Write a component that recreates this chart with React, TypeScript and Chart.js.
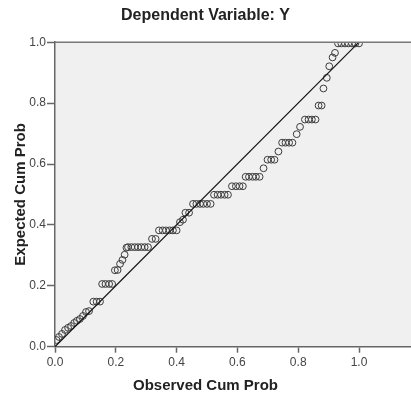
import React, { useEffect, useRef } from 'react';
import { Chart, registerables } from 'chart.js';

Chart.register(...registerables);

const chartTitle = 'Dependent Variable: Y';
const xAxisTitle = 'Observed Cum Prob';
const yAxisTitle = 'Expected Cum Prob';

const xTickValues = [0, 0.2, 0.4, 0.6, 0.8, 1.0];
const xTickLabels = ['0.0', '0.2', '0.4', '0.6', '0.8', '1.0'];
const yTickValues = [0, 0.2, 0.4, 0.6, 0.8, 1.0];
const yTickLabels = ['0.0', '0.2', '0.4', '0.6', '0.8', '1.0'];

const xMin = 0;
const xMax = 1.171;
const yMin = 0;
const yMax = 1;

const observedCumProb = [
  0.005, 0.013, 0.023, 0.033, 0.043, 0.053, 0.063, 0.072, 0.082, 0.092, 0.102, 0.112,
  0.126, 0.137, 0.148,
  0.155, 0.166, 0.178, 0.188,
  0.197, 0.206, 0.214, 0.222, 0.229, 0.235,
  0.240, 0.251, 0.262, 0.273, 0.284, 0.295, 0.306,
  0.319, 0.331,
  0.342, 0.354, 0.365, 0.377, 0.388, 0.400,
  0.411, 0.421,
  0.429, 0.441,
  0.454, 0.465, 0.477, 0.488, 0.500, 0.512,
  0.523, 0.535, 0.546, 0.558, 0.569,
  0.582, 0.595, 0.607, 0.618,
  0.627, 0.638, 0.650, 0.661, 0.673,
  0.686,
  0.699, 0.711, 0.722,
  0.735,
  0.747, 0.758, 0.770, 0.781,
  0.795,
  0.806,
  0.822, 0.834, 0.845, 0.857,
  0.867, 0.877,
  0.883, 0.894, 0.902, 0.913, 0.921,
  0.931, 0.942, 0.954, 0.965, 0.977, 0.988, 1.000,
];

const expectedCumProb = [
  0.022, 0.032, 0.042, 0.055, 0.062, 0.068, 0.078, 0.085, 0.091, 0.101, 0.114, 0.117,
  0.148, 0.148, 0.148,
  0.206, 0.206, 0.206, 0.206,
  0.251, 0.252, 0.272, 0.285, 0.302, 0.325,
  0.327, 0.327, 0.327, 0.327, 0.327, 0.327, 0.327,
  0.354, 0.354,
  0.382, 0.382, 0.382, 0.382, 0.382, 0.382,
  0.409, 0.417,
  0.440, 0.440,
  0.469, 0.469, 0.469, 0.469, 0.469, 0.469,
  0.499, 0.499, 0.499, 0.499, 0.499,
  0.527, 0.527, 0.527, 0.527,
  0.558, 0.558, 0.558, 0.558, 0.558,
  0.586,
  0.614, 0.614, 0.614,
  0.641,
  0.670, 0.670, 0.670, 0.670,
  0.698,
  0.722,
  0.746, 0.746, 0.746, 0.746,
  0.792, 0.792,
  0.848, 0.883, 0.921, 0.950, 0.965,
  0.996, 0.996, 0.996, 0.996, 0.996, 0.996, 0.996,
];

const referenceLineX = [0, 1];
const referenceLineY = [0, 1];

const FONT = "'Liberation Sans', Arial, Helvetica, sans-serif";

const plotBackground = {
  id: 'plotBackground',
  beforeDraw(chart: any) {
    const { ctx, chartArea: a } = chart;
    ctx.save();
    ctx.fillStyle = '#f0f0f0';
    ctx.fillRect(a.left, a.top, a.right - a.left, a.bottom - a.top);
    ctx.restore();
  },
  afterDraw(chart: any) {
    const { ctx, chartArea: a } = chart;
    ctx.save();
    ctx.strokeStyle = '#777';
    ctx.lineWidth = 1.5;
    ctx.beginPath();
    ctx.moveTo(a.left, a.top);
    ctx.lineTo(a.right, a.top);
    ctx.stroke();
    ctx.restore();
  },
};

function labelFor(values: number[], labels: string[], v: number) {
  const i = values.findIndex((t) => Math.abs(t - v) < 1e-9);
  return i >= 0 ? labels[i] : '';
}

export default function App() {
  const canvasRef = useRef<HTMLCanvasElement | null>(null);

  useEffect(() => {
    document.body.style.margin = '0';
    const canvas = canvasRef.current;
    if (!canvas) return;

    const points = observedCumProb.map((x, i) => ({ x, y: expectedCumProb[i] }));
    const refLine = referenceLineX.map((x, i) => ({ x, y: referenceLineY[i] }));

    const chart = new Chart(canvas, {
      type: 'scatter',
      data: {
        datasets: [
          {
            type: 'line',
            data: refLine,
            borderColor: '#111',
            borderWidth: 1.2,
            pointRadius: 0,
            fill: false,
          } as any,
          {
            type: 'scatter',
            data: points,
            pointRadius: 3.4,
            pointHoverRadius: 3.4,
            borderWidth: 1,
            borderColor: '#3c3c3c',
            backgroundColor: 'rgba(0,0,0,0)',
          } as any,
        ],
      },
      options: {
        responsive: false,
        animation: false,
        layout: { padding: 0, autoPadding: false },
        plugins: {
          legend: { display: false },
          tooltip: { enabled: false },
          title: {
            display: true,
            text: chartTitle,
            color: '#222',
            font: { family: FONT, size: 16, weight: 'bold', lineHeight: 1.2 },
            padding: { top: 6, bottom: 17 },
          },
          subtitle: {
            display: true,
            text: xAxisTitle,
            position: 'bottom',
            color: '#222',
            font: { family: FONT, size: 15, weight: 'bold', lineHeight: 1.0 },
            padding: { top: 0, bottom: 0 },
          },
        },
        scales: {
          x: {
            type: 'linear',
            min: xMin,
            max: xMax,
            afterBuildTicks: (s: any) => {
              s.ticks = xTickValues.map((value) => ({ value }));
            },
            afterFit: (s: any) => {
              s.height = 31.3;
            },
            ticks: {
              autoSkip: false,
              maxRotation: 0,
              padding: 3,
              color: '#444',
              font: { family: FONT, size: 12 },
              callback: (v: any) => labelFor(xTickValues, xTickLabels, Number(v)),
            },
            grid: {
              drawOnChartArea: false,
              drawTicks: true,
              tickLength: 6,
              tickColor: '#666',
              tickWidth: 1.5,
            },
            border: { display: true, color: '#666', width: 1.5 },
          },
          y: {
            type: 'linear',
            min: yMin,
            max: yMax,
            afterBuildTicks: (s: any) => {
              s.ticks = yTickValues.map((value) => ({ value }));
            },
            afterFit: (s: any) => {
              s.width = 55;
            },
            title: {
              display: true,
              text: yAxisTitle,
              color: '#222',
              font: { family: FONT, size: 15, weight: 'bold', lineHeight: 1.2 },
              padding: { top: 12, bottom: 0 },
            },
            ticks: {
              autoSkip: false,
              padding: 1,
              color: '#444',
              font: { family: FONT, size: 12 },
              callback: (v: any) => labelFor(yTickValues, yTickLabels, Number(v)),
            },
            grid: {
              drawOnChartArea: false,
              drawTicks: true,
              tickLength: 8,
              tickColor: '#666',
              tickWidth: 1.5,
            },
            border: { display: true, color: '#666', width: 1.5 },
          },
        },
      } as any,
      plugins: [plotBackground],
    });

    return () => {
      chart.destroy();
    };
  }, []);

  return (
    <div style={{ width: 411, height: 393 }}>
      <canvas ref={canvasRef} width={411} height={393} style={{ display: 'block' }} />
    </div>
  );
}
